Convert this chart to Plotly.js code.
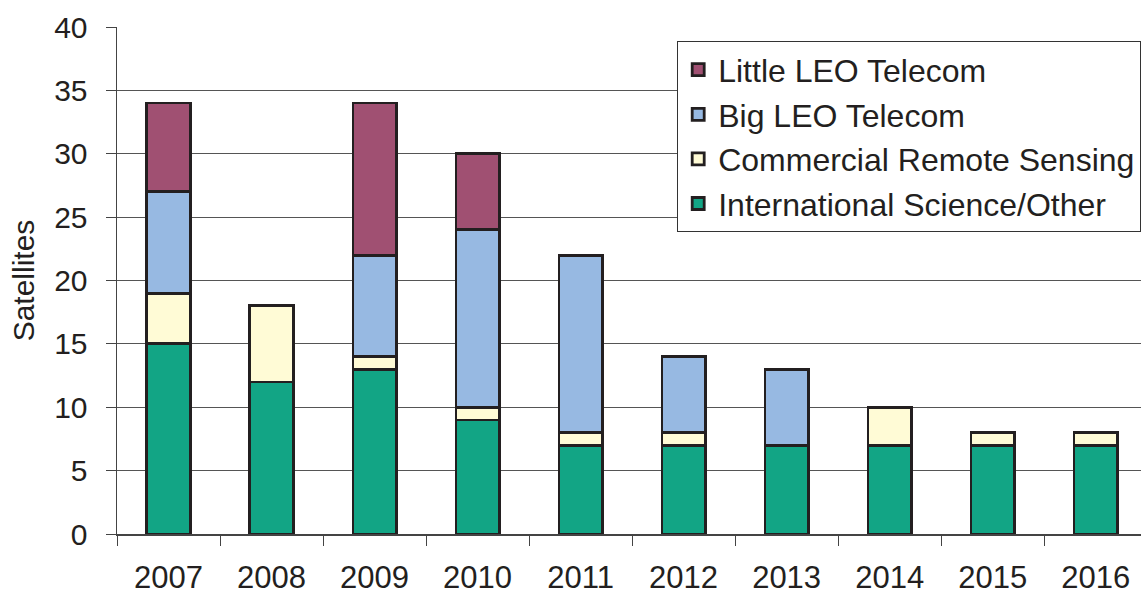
<!DOCTYPE html>
<html><head><meta charset="utf-8">
<script src="https://cdn.plot.ly/plotly-3.0.1.min.js"></script>
<style>html,body{margin:0;padding:0;background:#fff}#c{width:1141px;height:594px}</style>
</head><body><div id="c"></div>
<script>
const years = ['2007','2008','2009','2010','2011','2012','2013','2014','2015','2016'];
const intlScience = [15,12,13,9,7,7,7,7,7,7];
const commRemote = [4,6,1,1,1,1,0,3,1,1];
const bigLeo = [8,0,8,14,14,6,6,0,0,0];
const littleLeo = [7,0,12,6,0,0,0,0,0,0];

const seriesNames = ['International Science/Other','Commercial Remote Sensing','Big LEO Telecom','Little LEO Telecom'];
const seriesData = [intlScience, commRemote, bigLeo, littleLeo];
const seriesColors = ['#12A585','#FFFBD6','#97B9E2','#A05072'];

const traces = seriesData.map((d,i)=>({
  type:'bar', name:seriesNames[i], x:years, y:d,
  width:0.42,
  marker:{color:seriesColors[i], line:{color:'#231F20', width:2.8}},
  hoverinfo:'x+y+name'
}));

const layout = {
  width:1141, height:594,
  margin:{l:117, r:0, t:27, b:60},
  barmode:'stack',
  paper_bgcolor:'#fff', plot_bgcolor:'#fff',
  font:{family:'Liberation Sans, Arial, sans-serif', color:'#231F20'},
  xaxis:{type:'category', range:[-0.5, 9.44], tickson:'boundaries', ticks:'outside', ticklen:10,
    tickcolor:'#444', showline:true, linecolor:'#444', linewidth:1.5, showgrid:false,
    tickfont:{size:31}, ticklabelstandoff:15},
  yaxis:{range:[0,40], dtick:5, ticks:'outside', ticklen:10, tickcolor:'#444',
    showline:true, linecolor:'#444', linewidth:1.5, showgrid:true, gridcolor:'#555', gridwidth:1.2,
    zeroline:false, tickfont:{size:30}, ticklabelstandoff:12,
    title:{text:'Satellites', font:{size:30}, standoff:10}},
  legend:{x:0.547, y:0.972, xanchor:'left', yanchor:'top', traceorder:'reversed',
    bordercolor:'#333', borderwidth:1.2, bgcolor:'#fff', font:{size:32}, tracegroupgap:0},
  showlegend:true
};
Plotly.newPlot('c', traces, layout, {displayModeBar:false, staticPlot:true});
</script></body></html>
